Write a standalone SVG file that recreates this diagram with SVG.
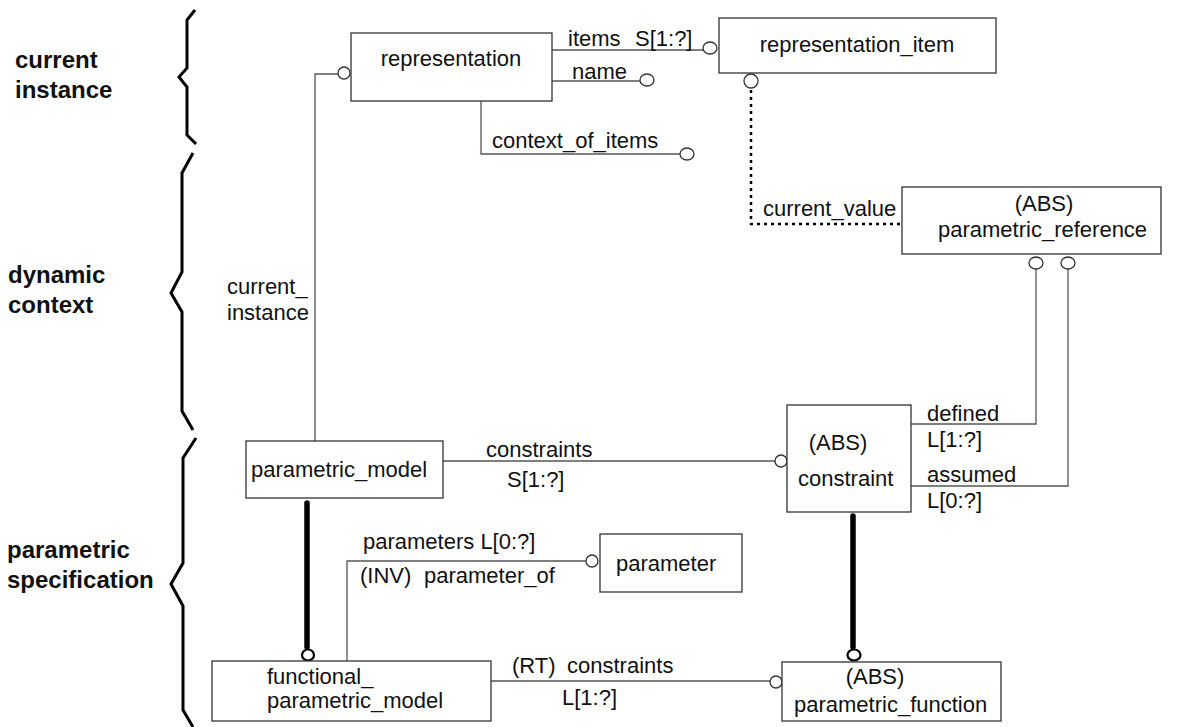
<svg xmlns="http://www.w3.org/2000/svg" width="1181" height="727" viewBox="0 0 1181 727">
<style>
.box{fill:#fff;stroke:#333;stroke-width:1.3}
.ln{fill:none;stroke:#555;stroke-width:1.3}
.dot{fill:none;stroke:#000;stroke-width:2.5;stroke-dasharray:3 4}
.thick{fill:none;stroke:#000;stroke-width:5.5;stroke-linecap:round}
.oc{fill:#fff;stroke:#333;stroke-width:1.3}
.oc2{fill:#fff;stroke:#000;stroke-width:2.2}
.brace{fill:none;stroke:#000;stroke-width:3}
text{font-family:"Liberation Sans",Arial,sans-serif;font-size:22px;fill:#111}
.b{font-weight:bold;font-size:24px}
.m{text-anchor:middle}
</style>
<rect width="1181" height="727" fill="#fff"/>
<g id="labels">
<path class="brace" d="M195,10 L187,20 V68 L179,77 L187,87 V135 L196,144"/>
<path class="brace" d="M193,153 L182,173 V272 L171,293 L182,312 V411 L193,430"/>
<path class="brace" d="M196,438 L183,458 V563 L171,584 L183,606 V710 L193,727"/>
<text class="b" x="15" y="68">current</text>
<text class="b" x="15" y="98">instance</text>
<text class="b" x="8" y="283">dynamic</text>
<text class="b" x="8" y="313">context</text>
<text class="b" x="7" y="558">parametric</text>
<text class="b" x="7" y="588">specification</text>
</g>
<g id="connectors">
<path class="ln" d="M315,441 V74 H338"/>
<ellipse class="oc" cx="344" cy="73" rx="6" ry="6"/>
<text x="227" y="294">current_</text>
<text x="227" y="320">instance</text>
<path class="ln" d="M552,50 H703"/>
<ellipse class="oc" cx="710" cy="48" rx="7" ry="6"/>
<text x="568" y="46">items</text>
<text x="635" y="46">S[1:?]</text>
<path class="ln" d="M552,81 H640"/>
<ellipse class="oc" cx="647" cy="80" rx="7" ry="6"/>
<text x="572" y="79">name</text>
<path class="ln" d="M481,101 V154 H680"/>
<ellipse class="oc" cx="687" cy="154" rx="7" ry="6"/>
<text x="492" y="148">context_of_items</text>
<ellipse class="oc" cx="751" cy="81" rx="7" ry="7"/>
<path class="dot" d="M751,90 V224 H901"/>
<text x="763" y="216">current_value</text>
<path class="ln" d="M911,424 H1036 V269"/>
<ellipse class="oc" cx="1036" cy="263" rx="7" ry="6"/>
<text x="927" y="421">defined</text>
<text x="927" y="447">L[1:?]</text>
<path class="ln" d="M911,486 H1068 V269"/>
<ellipse class="oc" cx="1068" cy="263" rx="7" ry="6"/>
<text x="927" y="482">assumed</text>
<text x="927" y="508">L[0:?]</text>
<path class="ln" d="M443,461 H775"/>
<ellipse class="oc" cx="781" cy="461" rx="6" ry="6"/>
<text x="486" y="457">constraints</text>
<text x="507" y="487">S[1:?]</text>
<path class="thick" d="M307,503 V647"/>
<ellipse class="oc2" cx="308" cy="655" rx="6" ry="5.5"/>
<path class="thick" d="M853,516 V647"/>
<ellipse class="oc2" cx="854" cy="655" rx="6.5" ry="5.5"/>
<path class="ln" d="M347,661 V561 H586"/>
<ellipse class="oc" cx="592" cy="561" rx="6" ry="6"/>
<text x="363" y="549">parameters L[0:?]</text>
<text x="360" y="583">(INV)</text>
<text x="424" y="583">parameter_of</text>
<path class="ln" d="M491,681 H770"/>
<ellipse class="oc" cx="776" cy="682" rx="6" ry="6"/>
<text x="512" y="673">(RT)</text>
<text x="567" y="673">constraints</text>
<text x="562" y="705">L[1:?]</text>
</g>
<g id="representation">
<rect class="box" x="351" y="33" width="201" height="68"/>
<text class="m" x="451" y="66">representation</text>
</g>
<g id="representation_item">
<rect class="box" x="719" y="18" width="277" height="55"/>
<text class="m" x="857" y="52">representation_item</text>
</g>
<g id="parametric_reference">
<rect class="box" x="902" y="187" width="259" height="67"/>
<text class="m" x="1044" y="211">(ABS)</text>
<text x="938" y="237">parametric_reference</text>
</g>
<g id="constraint">
<rect class="box" x="787" y="405" width="124" height="107"/>
<text class="m" x="838" y="450">(ABS)</text>
<text x="798" y="486">constraint</text>
</g>
<g id="parametric_model">
<rect class="box" x="246" y="441" width="197" height="57"/>
<text x="251" y="477">parametric_model</text>
</g>
<g id="parameter">
<rect class="box" x="600" y="534" width="142" height="58"/>
<text x="616" y="571">parameter</text>
</g>
<g id="functional_parametric_model">
<rect class="box" x="212" y="661" width="279" height="60"/>
<text x="267" y="684">functional_</text>
<text x="267" y="708">parametric_model</text>
</g>
<g id="parametric_function">
<rect class="box" x="782" y="662" width="219" height="59"/>
<text class="m" x="875" y="684">(ABS)</text>
<text x="794" y="712">parametric_function</text>
</g>
</svg>
